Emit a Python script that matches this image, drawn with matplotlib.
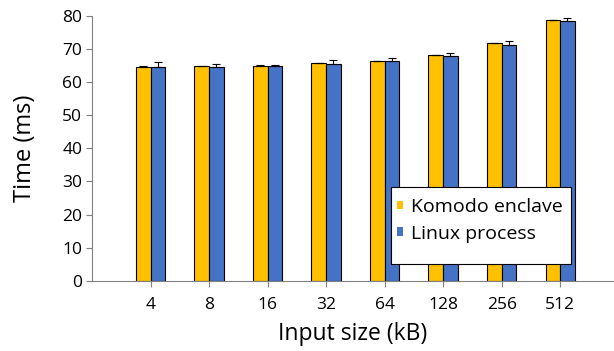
import numpy as np
import matplotlib.pyplot as plt
from matplotlib.patches import Rectangle

plt.rcParams['font.family'] = ['Open Sans', 'DejaVu Sans']

sizes = ['4', '8', '16', '32', '64', '128', '256', '512']
komodo = [64.7, 64.8, 65.0, 65.7, 66.4, 68.2, 71.7, 78.7]
komodo_err = [0.1, 0.1, 0.1, 0.1, 0.1, 0.1, 0.1, 0.2]
linux = [64.6, 64.7, 64.95, 65.45, 66.25, 68.0, 71.35, 78.5]
linux_err = [1.5, 0.8, 0.35, 1.4, 1.2, 0.9, 1.0, 1.0]

W, H = 614, 351
fig = plt.figure(figsize=(6.14, 3.51), dpi=100)
ax = fig.add_axes([92/W, 1 - 280.7/H, (W - 92)/W, (280.7 - 16)/H])

x = np.arange(len(sizes))
w = 0.25
zeros = [0] * len(sizes)
ax.bar(x - w/2, komodo, w, color='#FFC000', edgecolor='black', linewidth=0.8,
       label='Komodo enclave', yerr=[zeros, komodo_err], capsize=3,
       error_kw=dict(elinewidth=0.8, capthick=0.8))
ax.bar(x + w/2, linux, w, color='#4472C4', edgecolor='black', linewidth=0.8,
       label='Linux process', yerr=[zeros, linux_err], capsize=3,
       error_kw=dict(elinewidth=0.8, capthick=0.8))

ax.set_xlim(-1, 7.92)
ax.set_ylim(0, 80)
ax.set_yticks(range(0, 81, 10))
ax.set_xticks(x)
ax.set_xticklabels(sizes)
ax.tick_params(axis='both', labelsize=12.5, length=4, color='#808080')
ax.tick_params(axis='x', pad=8)
ax.tick_params(axis='y', pad=3)
for s in ['top', 'right']:
    ax.spines[s].set_visible(False)
ax.spines['left'].set_color('#808080')
ax.spines['bottom'].set_color('#808080')

ax.set_ylabel('Time (ms)', fontsize=17, labelpad=18)
ax.set_xlabel('Input size (kB)', fontsize=16.5, labelpad=6)

# legend box drawn separately to match the uneven padding
box = Rectangle((391/W, 1 - 264/H), 180/W, 77/H, transform=fig.transFigure,
                facecolor='white', edgecolor='black', linewidth=0.8, zorder=4.9)
ax.add_artist(box)
box.set_clip_on(False)
leg = ax.legend(loc='upper left', bbox_to_anchor=(393/W, 1 - 194/H), bbox_transform=fig.transFigure,
                fontsize=14, frameon=False,
                handlelength=0.3, handleheight=0.3, handletextpad=0.45, borderpad=0.2,
                labelspacing=0.45, borderaxespad=0)
leg.set_zorder(5)
for h in leg.legend_handles:
    h.set_edgecolor('none')

fig.savefig('out.png', dpi=100)
